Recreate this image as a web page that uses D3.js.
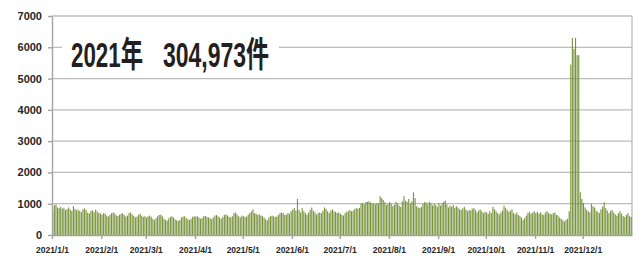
<!DOCTYPE html>
<meta charset="utf-8">
<style>
body { margin: 0; background: #fff; }
svg text { font-family: "Liberation Sans", Arial, sans-serif; }
.grid line { stroke: #bcbcbc; stroke-width: 1.3px; }
.axis path, .axis line { stroke: #a3a3a3; stroke-width: 1.4px; }
.axis text { fill: #262626; font-weight: bold; }
.bar { fill: #77933c; }
</style>
<body>
<div id="chart"></div>
<script src="https://cdnjs.cloudflare.com/ajax/libs/d3/7.8.5/d3.min.js"></script>
<script>
// daily counts 2021, one array per month
var jan = [760, 950, 980, 880, 860, 900, 840, 870, 800, 830, 880, 810, 770, 920, 830, 790, 810, 770, 730, 820, 850, 800, 710, 690, 770, 790, 730, 810, 750, 700, 690];
var feb = [650, 700, 680, 620, 590, 640, 700, 720, 690, 630, 600, 650, 680, 700, 640, 590, 620, 700, 720, 660, 610, 560, 590, 640, 680, 620, 580, 600];
var mar = [560, 600, 620, 580, 520, 480, 540, 600, 640, 650, 600, 520, 480, 460, 530, 580, 600, 560, 500, 470, 450, 480, 560, 590, 600, 540, 500, 480, 520, 580, 600];
var apr = [590, 600, 560, 520, 540, 600, 610, 580, 560, 540, 500, 560, 620, 640, 600, 560, 520, 580, 640, 660, 620, 580, 560, 600, 700, 720, 660, 600, 560, 620];
var may = [600, 580, 590, 650, 700, 750, 820, 700, 680, 640, 660, 620, 600, 560, 500, 470, 560, 600, 620, 600, 580, 590, 640, 700, 720, 700, 640, 650, 700, 680, 760];
var jun = [820, 860, 780, 1150, 800, 720, 860, 760, 700, 650, 720, 800, 880, 780, 720, 650, 700, 720, 700, 780, 880, 840, 760, 700, 780, 820, 760, 740, 700, 720];
var jul = [680, 640, 620, 700, 740, 760, 800, 760, 780, 830, 860, 840, 860, 1000, 1020, 980, 1050, 1060, 1080, 1040, 1000, 1020, 980, 1020, 1000, 1240, 1180, 1120, 1050, 960, 1000];
var aug = [1050, 1000, 920, 960, 1060, 1000, 940, 900, 1080, 1240, 1100, 1060, 1150, 1000, 1080, 1365, 1180, 920, 880, 860, 900, 1000, 1050, 1040, 980, 1060, 1020, 940, 1000, 960, 900];
var sep = [1020, 940, 1000, 1060, 1100, 980, 880, 940, 900, 960, 860, 920, 880, 820, 800, 850, 900, 820, 760, 800, 780, 840, 860, 800, 720, 780, 820, 760, 700, 740];
var oct = [720, 680, 760, 700, 900, 820, 760, 700, 660, 720, 780, 935, 860, 800, 740, 780, 820, 700, 660, 720, 640, 600, 560, 480, 540, 620, 700, 740, 680, 720, 760];
var nov = [700, 740, 680, 720, 660, 640, 720, 760, 700, 680, 660, 700, 720, 640, 620, 560, 520, 470, 430, 480, 520, 760, 5450, 6300, 5950, 6300, 5750, 5750, 1365, 1150];
var dec = [1020, 880, 800, 760, 720, 1000, 920, 880, 780, 740, 700, 820, 900, 1050, 860, 780, 700, 760, 800, 720, 660, 620, 700, 760, 680, 600, 580, 640, 700, 600, 580];

var counts = [].concat(jan, feb, mar, apr, may, jun, jul, aug, sep, oct, nov, dec);
var days = d3.utcDay.range(new Date(Date.UTC(2021, 0, 1)), new Date(Date.UTC(2022, 0, 1)));
var yTicks = [0, 1000, 2000, 3000, 4000, 5000, 6000, 7000];
var monthTicks = d3.utcMonth.range(new Date(Date.UTC(2021, 0, 1)), new Date(Date.UTC(2022, 0, 1)));
var titleYear = "2021年";
var titleTotal = "304,973件";

var data = days.map(function(d, i) { return {date: d, value: counts[i]}; });

var W = 643, H = 260;
var plotLeft = 52, plotRight = 632, plotTop = 16, plotBottom = 235;

var svg = d3.select("#chart").append("svg")
  .attr("width", W)
  .attr("height", H);

var x = d3.scaleUtc()
  .domain([new Date(Date.UTC(2021, 0, 1)), new Date(Date.UTC(2022, 0, 1))])
  .range([plotLeft, plotRight]);

var y = d3.scaleLinear()
  .domain([0, 7000])
  .range([plotBottom, plotTop]);

var step = (plotRight - plotLeft) / days.length;

// gridlines
svg.append("g")
  .attr("class", "grid")
  .selectAll("line")
  .data(yTicks.filter(function(t) { return t > 0; }))
  .enter().append("line")
  .attr("x1", plotLeft)
  .attr("x2", plotRight)
  .attr("y1", function(d) { return y(d); })
  .attr("y2", function(d) { return y(d); });

// right border of plot area
svg.append("line")
  .attr("x1", plotRight).attr("x2", plotRight)
  .attr("y1", plotTop).attr("y2", plotBottom)
  .style("stroke", "#bcbcbc")
  .style("stroke-width", 1.3);

// bars
svg.append("g")
  .selectAll("rect")
  .data(data)
  .enter().append("rect")
  .attr("class", "bar")
  .attr("x", function(d) { return x(d.date) + 0.2; })
  .attr("width", step * 0.7)
  .attr("y", function(d) { return y(d.value); })
  .attr("height", function(d) { return plotBottom - y(d.value); });

// y axis
var yAxis = d3.axisLeft(y)
  .tickValues(yTicks)
  .tickSize(4)
  .tickSizeOuter(0)
  .tickPadding(6)
  .tickFormat(d3.format("d"));

svg.append("g")
  .attr("class", "axis")
  .attr("transform", "translate(" + plotLeft + ",0)")
  .call(yAxis)
  .selectAll("text")
  .style("font-size", "11px");

// x axis
var xAxis = d3.axisBottom(x)
  .tickValues(monthTicks)
  .tickSize(4)
  .tickSizeOuter(0)
  .tickPadding(8)
  .tickFormat(function(d) { return "2021/" + (d.getUTCMonth() + 1) + "/1"; });

svg.append("g")
  .attr("class", "axis")
  .attr("transform", "translate(0," + plotBottom + ")")
  .call(xAxis)
  .selectAll("text")
  .style("font-size", "8.5px");

// title box
svg.append("rect")
  .attr("x", 62).attr("y", 27)
  .attr("width", 217).attr("height", 47)
  .style("fill", "#fff");

var tfont = '"Liberation Sans", "Noto Sans CJK JP", sans-serif';

// condensed look: squeeze each piece horizontally to the width seen in the picture
function squeezed(txt, x0, w) {
  var t = svg.append("text")
    .attr("x", 0).attr("y", 0)
    .style("font-family", tfont)
    .style("font-weight", "bold")
    .style("font-size", "35px")
    .style("fill", "#231f20")
    .text(txt);
  var natural = t.node().getComputedTextLength();
  t.attr("transform", "translate(" + x0 + ",67) scale(" + (w / natural) + ",1)");
}
squeezed(titleYear, 71, 72);
squeezed(titleTotal, 163, 106);
</script>
</body>
